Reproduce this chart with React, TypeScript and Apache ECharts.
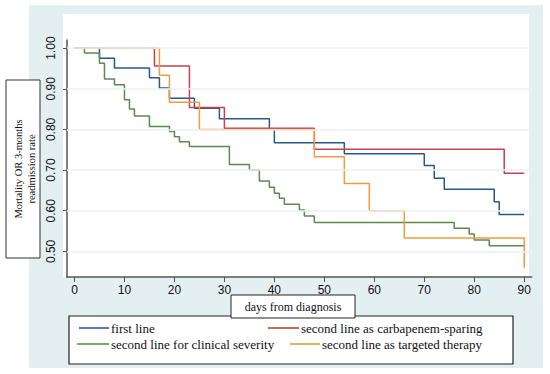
import React, { useEffect, useRef } from "react";
import * as echarts from "echarts";

// ---- data ----
const xTicks = [0, 10, 20, 30, 40, 50, 60, 70, 80, 90];
const yTicks = [0.5, 0.6, 0.7, 0.8, 0.9, 1.0];

const seriesNames = [
  "first line",
  "second line as carbapenem-sparing",
  "second line for clinical severity",
  "second line as targeted therapy",
];

const firstLineDays = [0, 5, 8, 15, 17, 19, 24, 29, 39, 40, 54, 70, 72, 74, 84, 85, 90];
const firstLineRate = [1.0, 0.975, 0.951, 0.927, 0.902, 0.877, 0.852, 0.826, 0.8, 0.767, 0.74, 0.711, 0.68, 0.653, 0.622, 0.591, 0.591];

const carbapenemDays = [0, 16, 23, 30, 48, 86, 90];
const carbapenemRate = [1.0, 0.956, 0.854, 0.803, 0.751, 0.692, 0.692];

const severityDays = [0, 2, 5, 6, 8, 10, 11, 12, 15, 19, 20, 21, 23, 31, 35, 37, 39, 40, 41, 42, 45, 46, 48, 76, 79, 80, 83, 90];
const severityRate = [1.0, 0.988, 0.963, 0.924, 0.91, 0.873, 0.85, 0.833, 0.807, 0.795, 0.782, 0.77, 0.758, 0.714, 0.7, 0.673, 0.658, 0.643, 0.631, 0.616, 0.602, 0.587, 0.571, 0.557, 0.543, 0.528, 0.514, 0.514];

const targetedDays = [0, 17, 19, 25, 48, 54, 59, 66, 90, 90];
const targetedRate = [1.0, 0.933, 0.867, 0.8, 0.733, 0.667, 0.6, 0.533, 0.533, 0.46];

const colors = ["#26598a", "#c94050", "#5a8a4c", "#f39a3c"];
const legendColors = ["#3552b8", "#b84a2a", "#4f9a3c", "#d8a630"];

const SANS = "Liberation Sans";
const SERIF = "Liberation Serif";

function pairs(xs: number[], ys: number[]) {
  return xs.map((x, i) => [x, ys[i]]);
}

export default function App() {
  const ref = useRef<HTMLDivElement>(null);

  useEffect(() => {
    const chart = echarts.init(ref.current!, null, { renderer: "svg", width: 550, height: 374 });

    const dataSets = [
      pairs(firstLineDays, firstLineRate),
      pairs(carbapenemDays, carbapenemRate),
      pairs(severityDays, severityRate),
      pairs(targetedDays, targetedRate),
    ];

    const legendPos = [
      { left: 79, top: 321.5, w: 30 },
      { left: 268, top: 321.5, w: 31 },
      { left: 77, top: 337.5, w: 32 },
      { left: 290, top: 337.5, w: 30 },
    ];

    const option: any = {
      animation: false,
      backgroundColor: "#ffffff",
      grid: { left: 67, top: 40, right: 18.3, bottom: 97, containLabel: false },
      xAxis: {
        type: "value",
        min: -1.5,
        max: 91.5,
        axisLine: { show: true, onZero: false, lineStyle: { color: "#555", width: 1.5 } },
        axisTick: { show: true, length: 5, customValues: xTicks, lineStyle: { color: "#555", width: 1 } },
        axisLabel: {
          show: true,
          customValues: xTicks,
          margin: 7,
          fontFamily: SANS,
          fontSize: 12,
          color: "#111",
        },
        splitLine: { show: false },
      },
      yAxis: {
        type: "value",
        min: 0.437,
        max: 1.02,
        axisLine: { show: true, onZero: false, lineStyle: { color: "#555", width: 1.5 } },
        axisTick: { show: true, length: 4, customValues: yTicks, lineStyle: { color: "#555", width: 1 } },
        axisLabel: {
          show: true,
          customValues: yTicks,
          rotate: 90,
          margin: 10,
          fontFamily: SANS,
          fontSize: 12,
          color: "#111",
          formatter: (v: number) => v.toFixed(2),
        },
        splitLine: { show: false },
      },
      legend: seriesNames.map((name, i) => ({
        data: [{ name, icon: "rect", itemStyle: { color: legendColors[i] } }],
        left: legendPos[i].left,
        top: legendPos[i].top,
        padding: 0,
        itemWidth: legendPos[i].w,
        itemHeight: 1.6,
        selectedMode: false,
        textStyle: { fontFamily: SERIF, fontSize: 13, color: "#111", padding: [0, 0, 0, -3] },
        z: 6,
      })),
      graphic: [
        // outer graph region
        { type: "rect", z: -20, silent: true, shape: { x: 29, y: 5, width: 514, height: 363 }, style: { fill: "#e4eff1" } },
        // plot region
        { type: "rect", z: -19, silent: true, shape: { x: 63, y: 14, width: 466, height: 263 }, style: { fill: "#ffffff" } },
        // y title box
        { type: "rect", z: 5, silent: true, shape: { x: 6, y: 80, width: 34, height: 178 }, style: { fill: "#ffffff", stroke: "#333", lineWidth: 1 } },
        {
          type: "text",
          z: 6,
          x: 25,
          y: 169,
          rotation: Math.PI / 2,
          style: {
            text: "Mortality OR 3-months\nreadmission rate",
            fontFamily: SERIF,
            fontSize: 10.5,
            lineHeight: 13,
            fill: "#111",
            align: "center",
            verticalAlign: "middle",
          },
        },
        // legend box
        { type: "rect", z: 3, silent: true, shape: { x: 69, y: 316, width: 444, height: 48 }, style: { fill: "#ffffff", stroke: "#222", lineWidth: 1.2 } },
        // x title box
        { type: "rect", z: 5, silent: true, shape: { x: 231, y: 295, width: 124, height: 23 }, style: { fill: "#ffffff", stroke: "#222", lineWidth: 1 } },
        {
          type: "text",
          z: 6,
          x: 293,
          y: 306.5,
          style: {
            text: "days from diagnosis",
            fontFamily: SERIF,
            fontSize: 12,
            fill: "#111",
            align: "center",
            verticalAlign: "middle",
          },
        },
      ],
      series: [
        {
          type: "line",
          name: "grid",
          data: [],
          z: 1,
          silent: true,
          markLine: {
            silent: true,
            symbol: "none",
            label: { show: false },
            lineStyle: { color: "#e9f2f3", type: "solid", width: 1.5 },
            data: yTicks.map((v) => ({ yAxis: v })),
          },
        },
        ...seriesNames.map((name, i) => ({
          type: "line",
          name,
          step: "end",
          symbol: "none",
          showSymbol: false,
          data: dataSets[i],
          z: 3,
          color: colors[i],
          lineStyle: { color: colors[i], width: 1.5 },
        })),
      ],
    };

    chart.setOption(option);
    return () => chart.dispose();
  }, []);

  return <div ref={ref} style={{ position: "fixed", left: 0, top: 0, width: 550, height: 374 }} />;
}
